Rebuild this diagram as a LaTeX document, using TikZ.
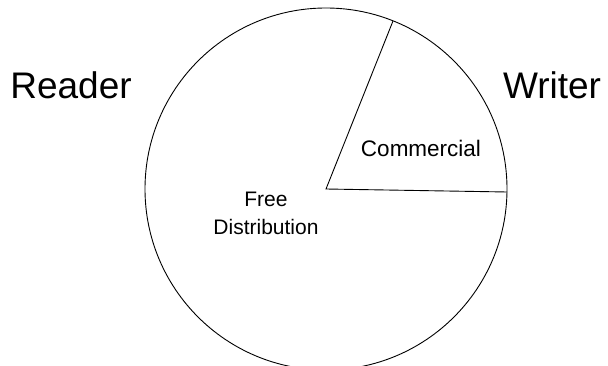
\documentclass[tikz,border=0pt]{standalone}
\usepackage{fontspec}
\setmainfont{Liberation Sans}
\usepackage{tikz}

\begin{document}
\begin{tikzpicture}[x=1pt,y=-1pt,
    side/.style={font=\fontsize{37}{42}\selectfont},
    slice/.style={align=center,font=\fontsize{21}{28}\selectfont}]
      \useasboundingbox (0,0) rectangle (608,366);
      \clip (0,0) rectangle (608,366);

      \coordinate (O) at (326,189);
      \coordinate (T) at (393,21);
      \coordinate (R) at (507,192);

      \draw[line width=0.9pt] (O) circle (181);
      \draw[line width=0.9pt] (T) -- (O) -- (R);

      \node[side] (reader) at (71,85) {Reader};
      \node[side] (writer) at (552,85) {Writer};
      \node[slice,font=\fontsize{22.5}{28}\selectfont] (comm) at (421,148) {Commercial};
      \node[slice] (free) at (266,213) {Free\\Distribution};
\end{tikzpicture}
\end{document}
